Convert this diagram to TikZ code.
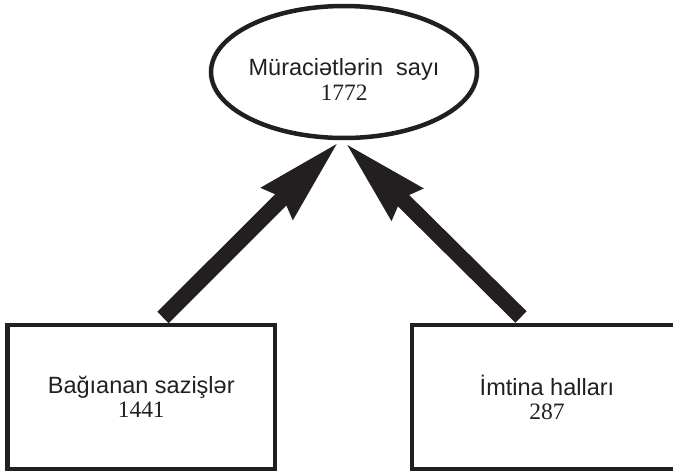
\documentclass[tikz,border=0pt]{standalone}
\usepackage{fontspec}
\setmainfont{Liberation Serif}
\newfontfamily\labelsans{Liberation Sans}
\usetikzlibrary{arrows.meta,shapes.geometric}
\definecolor{ink}{RGB}{35,31,32}
\begin{document}
\begin{tikzpicture}[x=1pt,y=-1pt,
  txtfont/.style={font=\fontsize{23.5}{24}\selectfont, text=ink, align=center},
  framebox/.style={draw=ink, line width=4.5pt, rectangle, inner sep=0pt, txtfont},
  ovalbox/.style={draw=ink, line width=4.5pt, ellipse, inner sep=0pt,
    minimum width=266pt, minimum height=132pt},
  flow/.style={draw=ink, line width=16pt,
    -{Stealth[length=85pt,width=46pt,inset=9pt,line width=0pt]}}
]
\useasboundingbox (0,0) rectangle (673,471);
\clip (0,0) rectangle (673,471);

\node[ovalbox] (top) at (344,72) {};
\node[txtfont] (toptext) at (344,79)
  {{\labelsans Müraciətlərin\ \ sayı}\\[1pt]1772};

\node[framebox, minimum width=267.5pt, minimum height=144pt] (lb) at (141.25,397)
  {{\labelsans Bağıanan sazişlər}\\1441};
\node[framebox, minimum width=270pt, minimum height=144pt] (rb) at (547,397)
  {{\labelsans İmtina halları}\\287};

\coordinate (lt) at (163,317.5);
\coordinate (lh) at (336.7,144);
\coordinate (rt) at (521,317);
\coordinate (rh) at (347.3,145);

\draw[flow] (lt) -- (lh);
\draw[flow] (rt) -- (rh);
\end{tikzpicture}
\end{document}
